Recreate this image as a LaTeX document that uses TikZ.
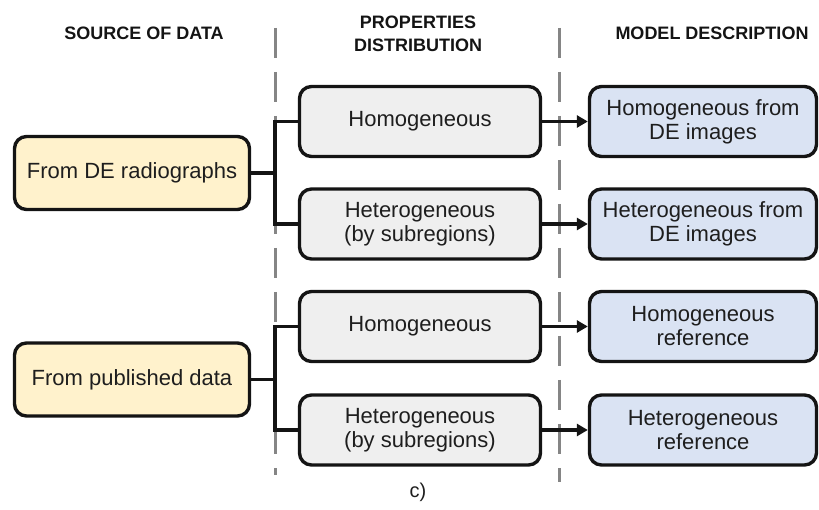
\documentclass[tikz,border=0pt]{standalone}
\usepackage{fontspec}
\setmainfont{Liberation Sans}
\usetikzlibrary{arrows.meta}
\definecolor{srcfill}{HTML}{FFF2CC}
\definecolor{midfill}{HTML}{EFEFEF}
\definecolor{modfill}{HTML}{DAE3F3}
\definecolor{edgec}{HTML}{141414}
\definecolor{txtc}{HTML}{1E1E1E}
\definecolor{dashc}{HTML}{858585}
\begin{document}
\begin{tikzpicture}[x=1pt,y=-1pt,
  box/.style={draw=edgec, line width=3.4pt, rounded corners=12pt, inner sep=0pt,
    align=center, font=\fontsize{22}{24}\selectfont, text=txtc},
  srcbox/.style={box, fill=srcfill, minimum width=235pt, minimum height=73pt},
  midbox/.style={box, fill=midfill, minimum width=241pt, minimum height=70pt},
  modbox/.style={box, fill=modfill, minimum width=227pt, minimum height=70pt},
  hdr/.style={font=\bfseries\fontsize{18}{23}\selectfont, align=center, text=black!92},
  conn/.style={draw=edgec, line width=3.2pt},
  arr/.style={conn, -{Triangle[length=11pt,width=12pt]}},
  sep/.style={draw=dashc, line width=3pt, dash pattern=on 30pt off 14pt}
]
\useasboundingbox (0,0) rectangle (819,510);

% headers
\node[hdr] (h1) at (144,33) {SOURCE OF DATA};
\node[hdr] (h2) at (418,34) {PROPERTIES\\DISTRIBUTION};
\node[hdr] (h3) at (712,33) {MODEL DESCRIPTION};

% separators
\coordinate (s1t) at (275,28);
\coordinate (s1b) at (275,475);
\coordinate (s2t) at (559,28);
\coordinate (s2b) at (559,482);
\draw[sep] (s1t) -- (s1b);
\draw[sep] (s2t) -- (s2b);

% source boxes
\node[srcbox] (L1) at (132,173) {From DE radiographs};
\node[srcbox] (L2) at (132,379.5) {From published data};

% distribution boxes
\node[midbox] (M1) at (420,121.5) {Homogeneous};
\node[midbox] (M2) at (420,224) {Heterogeneous\\(by subregions)};
\node[midbox] (M3) at (420,326.5) {Homogeneous};
\node[midbox] (M4) at (420,430) {Heterogeneous\\(by subregions)};

% model boxes
\node[modbox] (R1) at (703,121.5) {Homogeneous from\\DE images};
\node[modbox] (R2) at (703,224) {Heterogeneous from\\DE images};
\node[modbox] (R3) at (703,326.5) {Homogeneous\\reference};
\node[modbox] (R4) at (703,430) {Heterogeneous\\reference};

% bus connectors
\coordinate (bus) at (275,0);
\draw[conn] (M1.west) -- (M1.west -| bus) -- (M2.west -| bus) -- (M2.west);
\draw[conn] (L1.east) -- (L1.east -| bus);
\draw[conn] (M3.west) -- (M3.west -| bus) -- (M4.west -| bus) -- (M4.west);
\draw[conn] (L2.east) -- (L2.east -| bus);

% arrows
\draw[arr] (M1.east) -- (R1.west);
\draw[arr] (M2.east) -- (R2.west);
\draw[arr] (M3.east) -- (R3.west);
\draw[arr] (M4.east) -- (R4.west);

% caption
\node[font=\fontsize{20}{24}\selectfont, text=txtc] (cap) at (418,492) {c)};
\end{tikzpicture}
\end{document}
